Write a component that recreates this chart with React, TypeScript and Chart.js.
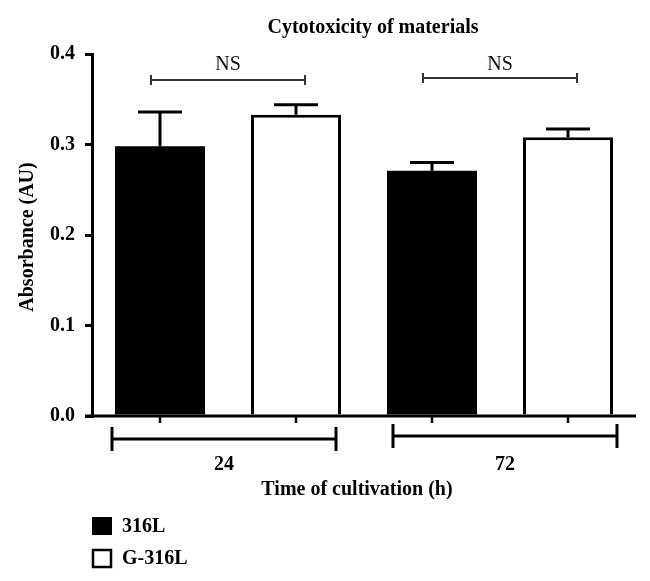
import React, { useEffect, useRef } from "react";
import { Chart, registerables } from "chart.js";

Chart.register(...registerables);

const categories = ["24", "72"];
const seriesNames = ["316L", "G-316L"];
const values316L = [0.298, 0.271];
const valuesG316L = [0.333, 0.308];
const err316L = [0.038, 0.009];
const errG316L = [0.011, 0.009];
const yTicks = [0, 0.1, 0.2, 0.3, 0.4];
const chartTitle = "Cytotoxicity of materials";
const xTitle = "Time of cultivation (h)";
const yTitle = "Absorbance (AU)";
const sigLabels = ["NS", "NS"];

const FONT = "'Liberation Serif', 'Times New Roman', serif";

export default function App() {
  const ref = useRef<HTMLCanvasElement | null>(null);

  useEffect(() => {
    const canvas = ref.current;
    if (!canvas) return;

    const overlay = {
      id: "overlay",
      afterDatasetsDraw(chart: any) {
        const ctx = chart.ctx;
        const y = chart.scales.y;
        const x = chart.scales.x;
        const area = chart.chartArea;
        ctx.save();
        // error bars
        const errs = [err316L, errG316L];
        const vals = [values316L, valuesG316L];
        for (let d = 0; d < 2; d++) {
          const meta = chart.getDatasetMeta(d);
          meta.data.forEach((bar: any, i: number) => {
            const top = y.getPixelForValue(vals[d][i] + errs[d][i]);
            const base = y.getPixelForValue(vals[d][i]);
            ctx.strokeStyle = "#000";
            ctx.lineWidth = 3;
            ctx.beginPath();
            ctx.moveTo(bar.x, base);
            ctx.lineTo(bar.x, top);
            ctx.moveTo(bar.x - 22, top);
            ctx.lineTo(bar.x + 22, top);
            ctx.stroke();
          });
        }
        // baseline
        const y0 = y.getPixelForValue(0);
        ctx.lineWidth = 3;
        ctx.beginPath();
        ctx.moveTo(85, y0);
        ctx.lineTo(area.right, y0);
        ctx.stroke();
        // small ticks under bars
        ctx.lineWidth = 2.5;
        for (let d = 0; d < 2; d++) {
          chart.getDatasetMeta(d).data.forEach((bar: any) => {
            ctx.beginPath();
            ctx.moveTo(bar.x, y0);
            ctx.lineTo(bar.x, y0 + 7);
            ctx.stroke();
          });
        }
        // category brackets + labels
        const shift = [-4, 5];
        const by = [439, 436];
        ctx.lineWidth = 3;
        ctx.fillStyle = "#000";
        ctx.textAlign = "center";
        ctx.textBaseline = "middle";
        categories.forEach((c, i) => {
          const cx = x.getPixelForValue(i) + shift[i];
          const l = cx - 112;
          const r = cx + 112;
          ctx.beginPath();
          ctx.moveTo(l, by[i]);
          ctx.lineTo(r, by[i]);
          ctx.moveTo(l, by[i] - 12);
          ctx.lineTo(l, by[i] + 12);
          ctx.moveTo(r, by[i] - 12);
          ctx.lineTo(r, by[i] + 12);
          ctx.stroke();
          ctx.font = `bold 20px ${FONT}`;
          ctx.fillText(c, cx, 465);
        });
        // axis titles
        ctx.font = `bold 20px ${FONT}`;
        ctx.fillText(xTitle, 357, 490);
        ctx.save();
        ctx.translate(28, 237);
        ctx.rotate(-Math.PI / 2);
        ctx.fillText(yTitle, 0, 0);
        ctx.restore();
        ctx.font = `bold 20px ${FONT}`;
        ctx.fillText(chartTitle, 373, 28);
        // significance brackets
        const sy = [80, 78];
        ctx.strokeStyle = "#333";
        ctx.lineWidth = 2;
        sigLabels.forEach((s, i) => {
          const cx = x.getPixelForValue(i);
          const l = cx - 77;
          const r = cx + 77;
          ctx.beginPath();
          ctx.moveTo(l, sy[i]);
          ctx.lineTo(r, sy[i]);
          ctx.moveTo(l, sy[i] - 5);
          ctx.lineTo(l, sy[i] + 5);
          ctx.moveTo(r, sy[i] - 5);
          ctx.lineTo(r, sy[i] + 5);
          ctx.stroke();
          ctx.fillStyle = "#111";
          ctx.font = `20px ${FONT}`;
          ctx.fillText(s, cx, 65);
        });
        // legend
        ctx.fillStyle = "#000";
        ctx.fillRect(92, 517, 20, 18);
        ctx.strokeStyle = "#000";
        ctx.lineWidth = 2.5;
        ctx.strokeRect(93, 550, 18, 17);
        ctx.textAlign = "left";
        ctx.font = `bold 20px ${FONT}`;
        ctx.fillText(seriesNames[0], 122, 527);
        ctx.fillText(seriesNames[1], 122, 559);
        ctx.restore();
      },
    };

    const chart = new Chart(canvas, {
      type: "bar",
      data: {
        labels: categories,
        datasets: [
          {
            label: seriesNames[0],
            data: values316L,
            backgroundColor: "#000",
            borderColor: "#000",
            borderWidth: 0,
            barPercentage: 0.662,
            categoryPercentage: 1,
          },
          {
            label: seriesNames[1],
            data: valuesG316L,
            backgroundColor: "#fff",
            borderColor: "#000",
            borderWidth: { top: 3, left: 3, right: 3, bottom: 0 },
            borderSkipped: "bottom",
            barPercentage: 0.662,
            categoryPercentage: 1,
          },
        ],
      },
      options: {
        responsive: false,
        animation: false,
        layout: { padding: { left: 0, right: 14, top: 54, bottom: 165 } },
        plugins: {
          legend: { display: false },
          title: { display: false },
          tooltip: { enabled: false },
        },
        scales: {
          x: {
            display: false,
          },
          y: {
            min: 0,
            max: 0.4,
            afterFit: (s: any) => {
              s.width = 92;
            },
            afterBuildTicks: (s: any) => {
              s.ticks = yTicks.map((v) => ({ value: v }));
            },
            border: { display: true, color: "#000", width: 3 },
            grid: {
              drawOnChartArea: false,
              drawTicks: true,
              tickLength: 7,
              lineWidth: 3,
              color: "#000",
            },
            ticks: {
              color: "#000",
              font: { family: FONT, weight: "bold", size: 20 },
              padding: 10,
              callback: (v: any) => Number(v).toFixed(1),
            },
          },
        },
      },
      plugins: [overlay],
    });

    return () => chart.destroy();
  }, []);

  return (
    <div style={{ position: "fixed", left: 0, top: 0, width: 650, height: 581, background: "#fff" }}>
      <canvas ref={ref} width={650} height={581} style={{ width: 650, height: 581 }} />
    </div>
  );
}
